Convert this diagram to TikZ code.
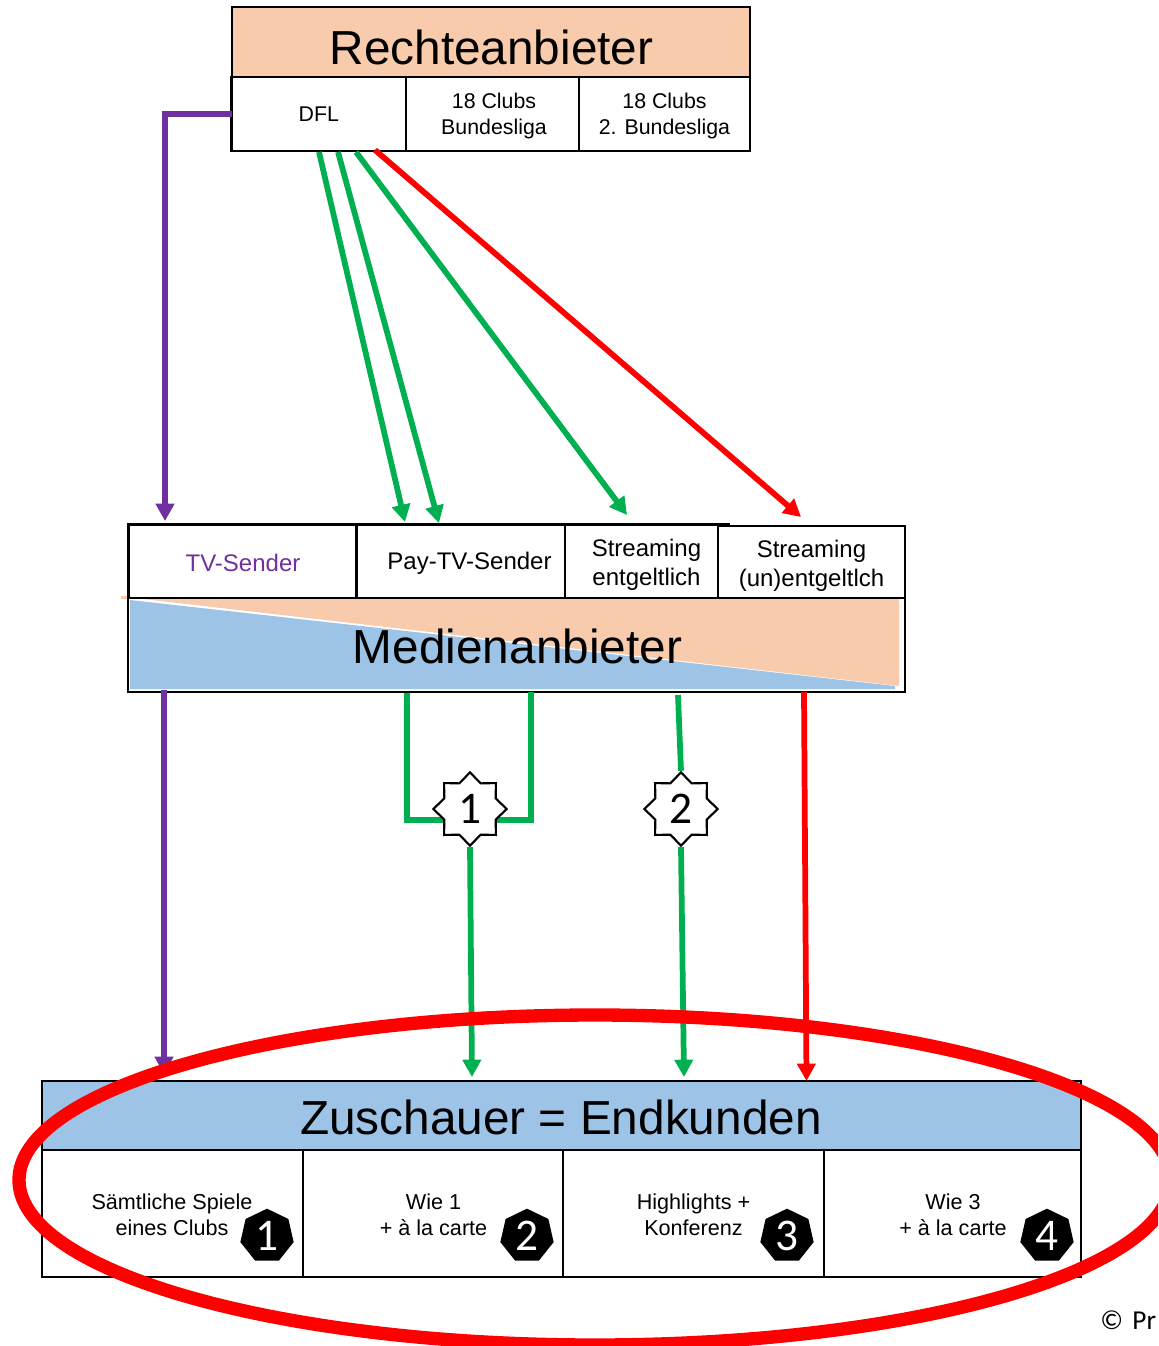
\documentclass[tikz,border=0pt]{standalone}
\usepackage{fontspec}
\setmainfont{Liberation Sans}
\newfontfamily\calfont{Carlito}
\usetikzlibrary{arrows.meta,shapes.geometric}
\definecolor{cOrange}{HTML}{F7CBAC}
\definecolor{cBlue}{HTML}{9DC3E6}
\definecolor{cPurple}{HTML}{7030A0}
\definecolor{cGreen}{HTML}{00B050}
\definecolor{cRed}{HTML}{FF0000}
\newcommand{\fBig}{\fontsize{35.8}{40}\selectfont}
\newcommand{\fMid}{\fontsize{18}{21.5}\selectfont}
\newcommand{\fTop}{\fontsize{16}{19.5}\selectfont}
\newcommand{\fLow}{\fontsize{16.2}{19.5}\selectfont}
\newcommand{\fNum}{\calfont\fontsize{34}{36}\selectfont}
\tikzset{
  box/.style={draw=black,line width=2.1pt,inner sep=0pt,outer sep=0pt,anchor=north west,align=center},
  bigtext/.style={inner sep=0pt,anchor=base,font=\fBig},
  midtext/.style={inner sep=0pt,align=center,font=\fMid},
  toptext/.style={inner sep=0pt,align=center,font=\fTop},
  conn/.style={line width=4.3pt,line cap=butt,line join=miter},
  arrowed/.style={-{Triangle[length=13pt,width=13.5pt]}},
  burst/.style={star,star points=8,star point ratio=1.32,draw=black,fill=white,line width=1.6pt,minimum size=55pt,inner sep=0pt,font=\fNum},
  badge/.style={regular polygon,regular polygon sides=7,fill=black,text=white,minimum size=41pt,inner sep=0pt,font=\fNum}
}
\begin{document}
\begin{tikzpicture}[x=0.75pt,y=-0.75pt]
\useasboundingbox (0,0) rectangle (1158,1346);
\clip (0,0) rectangle (1158,1346);
\fill[white] (0,0) rectangle (1158,1346);

% Rechteanbieter block
\node[box,fill=cOrange,minimum width={518*0.75pt},minimum height={70*0.75pt}] (rechte) at (232,7) {};
\node[bigtext] (rechtetxt) at (491.5,64) {Rechteanbieter};
\node[box,font=\fTop,minimum width={174.5*0.75pt},minimum height={74*0.75pt}] (dfl) at (231.5,77) {DFL};
\node[box,minimum width={173*0.75pt},minimum height={74*0.75pt}] (clubsa) at (406,77) {};
\node[toptext] (clubsatxt) at (494,116) {18 Clubs\\Bundesliga};
\node[box,minimum width={171*0.75pt},minimum height={74*0.75pt}] (clubsb) at (579,77) {};
\node[toptext] (clubsbtxt) at (664.5,116) {18 Clubs\\2. Bundesliga};

% Medienanbieter block
\node[box,minimum width={777*0.75pt},minimum height={94*0.75pt}] (medien) at (128,598) {};
\fill[cBlue] (130,600) -- (130,689) -- (895,689) -- (895,686) -- cycle;
\fill[cOrange] (130,597.5) -- (899,597.5) -- (899,686) -- cycle;
\fill[cOrange] (121,595.5) rectangle (130,598.5);
\node[bigtext] (medientxt) at (517.5,663) {Medienanbieter};
\draw[black,line width=2.1pt] (128,598) -- (905,598);

\node[box,minimum width={228*0.75pt},minimum height={73.5*0.75pt}] (tv) at (128.5,524.5) {};
\node[midtext,text=cPurple] (tvtxt) at (243,563) {TV-Sender};
\node[box,minimum width={209*0.75pt},minimum height={73.5*0.75pt}] (pay) at (356,524.5) {};
\node[midtext] (paytxt) at (469.5,563.5) {Pay-TV-Sender};
\node[box,minimum width={153*0.75pt},minimum height={73.5*0.75pt}] (sa) at (565,524.5) {};
\node[midtext] (satxt) at (646.5,565) {Streaming\\entgeltlich};
\node[box,minimum width={187*0.75pt},minimum height={72*0.75pt}] (sb) at (718,526) {};
\node[midtext] (sbtxt) at (811.5,566) {Streaming\\(un)entgeltlch};
\coordinate (saext) at (730,524.5);
\draw[black,line width=2.1pt] (sa.north east) -- (saext);

% Zuschauer block
\node[box,fill=cBlue,minimum width={1039*0.75pt},minimum height={69*0.75pt}] (zus) at (42,1081) {};
\node[bigtext] (zustxt) at (561,1134) {Zuschauer = Endkunden};
\node[box,minimum width={261*0.75pt},minimum height={127*0.75pt}] (ka) at (42,1150) {};
\node[box,minimum width={260*0.75pt},minimum height={127*0.75pt}] (kb) at (303,1150) {};
\node[box,minimum width={261*0.75pt},minimum height={127*0.75pt}] (kc) at (563,1150) {};
\node[box,minimum width={257*0.75pt},minimum height={127*0.75pt}] (kd) at (824,1150) {};
\node[toptext,font=\fLow] (katxt) at (172,1215) {Sämtliche Spiele\\eines Clubs};
\node[toptext,font=\fLow] (kbtxt) at (433.5,1215) {Wie 1\\+ à la carte};
\node[toptext,font=\fLow] (kctxt) at (693.5,1215) {Highlights +\\Konferenz};
\node[toptext,font=\fLow] (kdtxt) at (953,1215) {Wie 3\\+ à la carte};
\node[badge] (ba) at (267,1236) {1};
\node[badge] (bb) at (527,1236) {2};
\node[badge] (bc) at (787,1236) {3};
\node[badge] (bd) at (1047,1236) {4};

% upper connectors
\coordinate (tvtip) at (165,521);
\coordinate (s1) at (319,152); \coordinate (e1) at (405,522);
\coordinate (s2) at (338,152); \coordinate (e2) at (439,523);
\coordinate (s3) at (356,152); \coordinate (e3) at (627,515);
\coordinate (s4) at (375,150); \coordinate (e4) at (801,517);
\draw[conn,cPurple,arrowed] (dfl.west) -| (tvtip);
\draw[conn,cGreen,arrowed] (s1) -- (e1);
\draw[conn,cGreen,arrowed] (s2) -- (e2);
\draw[conn,cGreen,arrowed] (s3) -- (e3);
\draw[conn,cRed,arrowed] (s4) -- (e4);

% lower connectors
\coordinate (l1) at (407,693); \coordinate (l1b) at (407,820);
\coordinate (l2) at (531,692); \coordinate (l2b) at (531,820);
\coordinate (l3) at (678,695);
\coordinate (t1) at (472,1077); \coordinate (t2) at (684,1077);
\coordinate (p1) at (164,690); \coordinate (p2) at (164,1074);
\coordinate (r1) at (804,692); \coordinate (r2) at (806.5,1081);
\coordinate (j1) at (470,820); \coordinate (j2) at (470,820);
\draw[conn,cPurple,arrowed] (p1) -- (p2);
\draw[conn,cGreen] (l1) -- (l1b) -- (j1);
\draw[conn,cGreen] (l2) -- (l2b) -- (j2);
\draw[conn,cRed,arrowed] (r1) -- (r2);
\node[burst] (stara) at (470,809) {1};
\node[burst] (starb) at (681,809) {2};
\draw[conn,cGreen] (l3) -- (starb.north);
\draw[conn,cGreen,arrowed] (stara.south) -- (t1);
\draw[conn,cGreen,arrowed] (starb.south) -- (t2);

% red ellipse
\draw[cRed,line width=10pt] (595,1180) ellipse [x radius=576,y radius=165];

\node[anchor=base west,inner sep=0pt,font=\calfont\fontsize{20.5}{24}\selectfont] (copy) at (1100,1329) {©\hspace{7pt}Pr};
\end{tikzpicture}
\end{document}
